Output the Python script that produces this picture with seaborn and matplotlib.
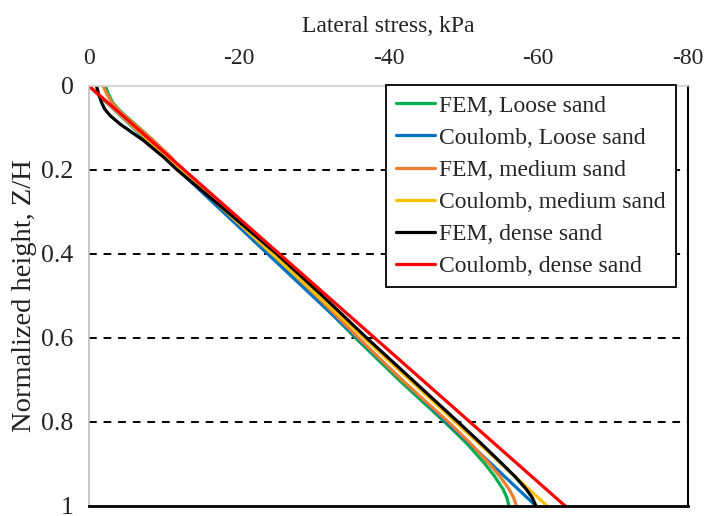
import numpy as np
import pandas as pd
import matplotlib
matplotlib.use("Agg")
import matplotlib.pyplot as plt
import seaborn as sns

# Normalized depth samples
z_fem = [0.0, 0.02, 0.04, 0.055, 0.07, 0.09, 0.13, 0.17, 0.2, 0.3, 0.4, 0.5, 0.6, 0.7, 0.8,
         0.85, 0.9, 0.93, 0.96, 0.98, 1.0]
z_coul = [0.0, 1.0]

fem_loose = [-2.2, -2.6, -3.2, -3.9, -4.8, -6.1, -8.6, -10.9, -12.0, -18.2, -24.3, -30.1, -35.6, -41.4, -47.5,
             -50.4, -52.9, -54.2, -55.3, -55.8, -56.1]
fem_medium = [-1.9, -2.4, -3.1, -3.8, -4.7, -6.0, -8.6, -11.0, -12.2, -18.4, -24.6, -30.4, -36.0, -41.8, -48.0,
              -50.9, -53.5, -54.9, -56.1, -56.7, -57.1]
fem_dense = [-1.0, -1.3, -1.7, -2.1, -2.8, -4.1, -7.3, -10.0, -11.8, -18.5, -25.1, -31.2, -37.1, -43.2, -49.3,
             -52.3, -55.2, -56.9, -58.4, -59.2, -59.7]
coul_loose = [0.0, -59.7]
coul_medium = [0.0, -61.2]
coul_dense = [0.0, -63.6]

labels = ["FEM, Loose sand", "Coulomb, Loose sand", "FEM, medium sand",
          "Coulomb, medium sand", "FEM, dense sand", "Coulomb, dense sand"]
colors = ["#00B050", "#0070C0", "#ED7D31", "#FFC000", "#000000", "#FF0000"]
x_ticks = [0, -20, -40, -60, -80]
y_ticks = [0, 0.2, 0.4, 0.6, 0.8, 1]
y_ticklabels = ["0", "0.2", "0.4", "0.6", "0.8", "1"]

series = [(fem_loose, z_fem), (coul_loose, z_coul), (fem_medium, z_fem),
          (coul_medium, z_coul), (fem_dense, z_fem), (coul_dense, z_coul)]
rows = []
for lab, (xs, zs) in zip(labels, series):
    for i, (x, z) in enumerate(zip(xs, zs)):
        rows.append({"stress": x, "z": z, "series": lab, "order": i})
df = pd.DataFrame(rows)

sns.set_style("white")
plt.rcParams["font.family"] = ["Liberation Serif", "DejaVu Serif"]

fig = plt.figure(figsize=(7.07, 5.16), dpi=100)
ax = fig.add_axes([89 / 707, 1 - 506 / 516, (688 - 89) / 707, (506 - 86) / 516])

sns.lineplot(data=df, x="stress", y="z", hue="series", hue_order=labels,
             palette=dict(zip(labels, colors)), sort=False, estimator=None,
             linewidth=2.3, ax=ax)
for ln in ax.get_lines():
    ln.set_solid_joinstyle("round")

ax.set_xlim(0, -80)
ax.set_ylim(1, 0)
ax.xaxis.tick_top()
ax.xaxis.set_label_position("top")
ax.set_xticks(x_ticks)
ax.set_xticklabels([str(t) for t in x_ticks])
ax.set_yticks(y_ticks)
ax.set_yticklabels(y_ticklabels, va="center_baseline")
ax.tick_params(axis="x", length=0, labelsize=17, pad=12, colors="#222222")
ax.tick_params(axis="y", length=0, labelsize=18.5, pad=11, colors="#222222")
ax.set_xlabel("Lateral stress, kPa", fontsize=17, labelpad=12, color="#222222")
ax.set_ylabel("Normalized height, Z/H", fontsize=20.5, labelpad=3, color="#222222")

for yv in [0.2, 0.4, 0.6, 0.8]:
    ax.axhline(yv, color="black", linestyle=(0, (4, 3.5)), linewidth=1.4, zorder=0)

ax.spines["top"].set_color("#D0D0D0")
ax.spines["top"].set_linewidth(1.2)
ax.spines["left"].set_color("#BFBFBF")
ax.spines["left"].set_linewidth(1.2)
ax.spines["bottom"].set_color("black")
ax.spines["bottom"].set_linewidth(2.0)
ax.spines["right"].set_color("black")
ax.spines["right"].set_linewidth(1.5)

leg = ax.legend(loc="upper right", bbox_to_anchor=(0.98, 1.002), fontsize=17,
                frameon=True, fancybox=False, edgecolor="black", framealpha=1,
                handlelength=1.65, handletextpad=0.2, borderpad=0.42,
                labelspacing=0.45, borderaxespad=0)
leg.get_frame().set_linewidth(1.3)
for h in leg.get_lines():
    h.set_linewidth(2.3)

fig.savefig("out.png", dpi=100)
